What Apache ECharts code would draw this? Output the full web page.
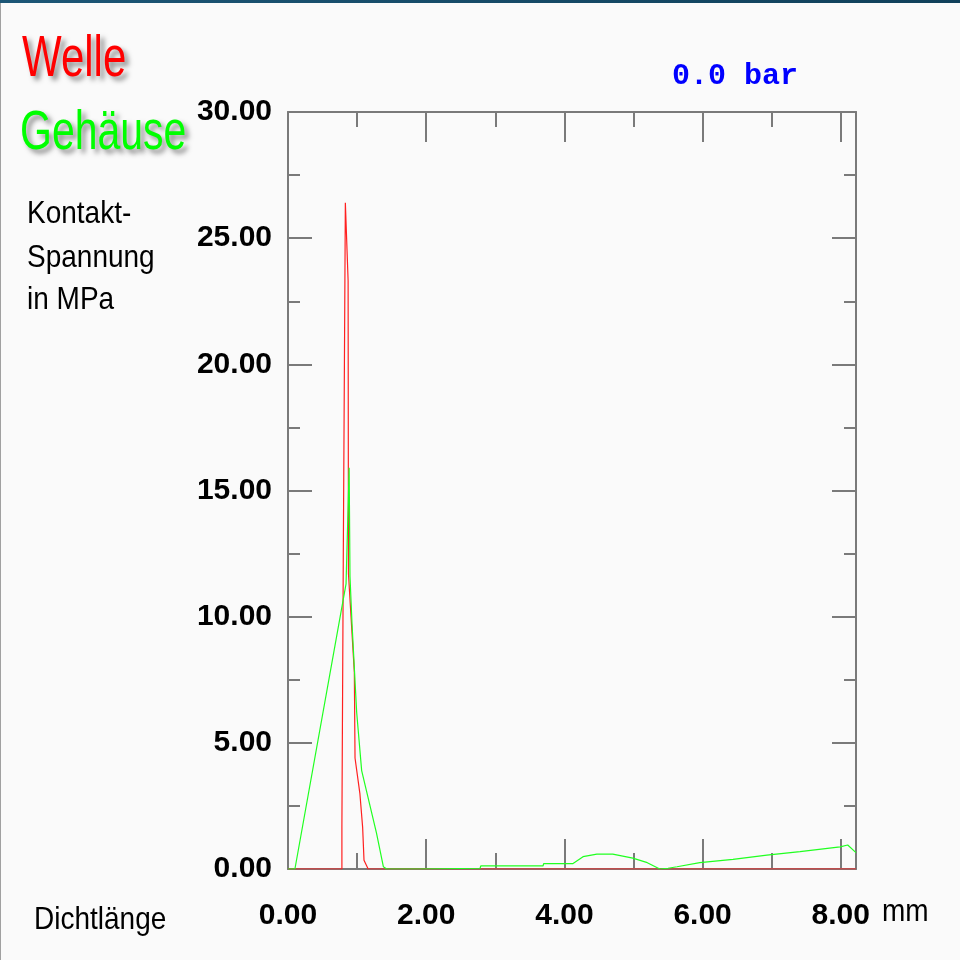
<!DOCTYPE html>
<html>
<head>
<meta charset="utf-8">
<script src="https://cdn.jsdelivr.net/npm/echarts@6/dist/echarts.min.js"></script>
<style>
html,body{margin:0;padding:0;background:#fafafa;}
#c{width:960px;height:960px;}
</style>
</head>
<body>
<div id="c"></div>
<script>
// Data
const welleX = [0, 0.10, 0.78, 0.78, 0.80, 0.83, 0.87, 0.875, 0.96, 0.97, 1.04, 1.08, 1.10, 1.16, 8.22];
const welleY = [0, 0, 0, 1.66, 12.3, 26.4, 23.3, 11.7, 7.8, 4.4, 3.0, 1.66, 0.35, 0, 0];
const gehX = [0, 0.10, 0.84, 0.885, 0.897, 0.926, 0.994, 1.066, 1.28, 1.38, 1.43, 1.91, 1.92, 2.78, 2.79, 3.69, 3.70, 4.12, 4.27, 4.47, 4.70, 4.99, 5.20, 5.38, 5.50, 5.63, 5.96, 6.44, 6.93, 7.41, 7.99, 8.10, 8.22];
const gehY = [0, 0, 11.3, 15.9, 11.6, 9.75, 6.2, 3.9, 1.43, 0.09, 0, 0, 0.03, 0.03, 0.12, 0.12, 0.21, 0.21, 0.49, 0.59, 0.59, 0.43, 0.25, 0, 0.03, 0.09, 0.25, 0.38, 0.55, 0.69, 0.88, 0.95, 0.65];
const xMajorTicks = [0, 2, 4, 6, 8];
const xMinorTicks = [1, 3, 5, 7];
const yMin = 0, yMax = 30, yStep = 5;
const xMin = 0, xMax = 8.22;
const seriesNames = ['Welle', 'Gehäuse'];
const pressureLabel = '0.0 bar';

const axisGray = '#7a7a7a';
const labelFont = '"Liberation Sans", Arial, sans-serif';

function pairs(xs, ys) { return xs.map((x, i) => [x, ys[i]]); }

function xAxisDef(pos, ticks, len, withLine, withLabel) {
  return {
    type: 'value', position: pos, min: xMin, max: xMax,
    axisLine: { show: withLine, onZero: false, lineStyle: { color: axisGray, width: 2 } },
    axisTick: { show: true, inside: true, length: len, customValues: ticks, lineStyle: { color: axisGray, width: 2 } },
    axisLabel: withLabel ? {
      show: true, customValues: ticks, margin: 32,
      formatter: v => Number(v).toFixed(2),
      color: '#000', fontSize: 30, fontWeight: 'bold', fontFamily: labelFont
    } : { show: false },
    splitLine: { show: false }
  };
}
function yAxisDef(pos, withLabel) {
  return {
    type: 'value', position: pos, min: yMin, max: yMax, interval: yStep,
    axisLine: { show: true, onZero: false, lineStyle: { color: axisGray, width: 2 } },
    axisTick: { show: true, inside: true, length: 24, lineStyle: { color: axisGray, width: 2 } },
    minorTick: { show: true, splitNumber: 2, length: 12, lineStyle: { color: axisGray, width: 2 } },
    axisLabel: withLabel ? {
      show: true, margin: 16,
      formatter: v => Number(v).toFixed(2),
      color: '#000', fontSize: 30, fontWeight: 'bold', fontFamily: labelFont
    } : { show: false },
    splitLine: { show: false }, minorSplitLine: { show: false }
  };
}

const chart = echarts.init(document.getElementById('c'), null, { renderer: 'canvas' });
chart.setOption({
  backgroundColor: '#fafafa',
  animation: false,
  grid: { left: 288, right: 104, top: 112, bottom: 91, containLabel: false },
  xAxis: [
    xAxisDef('bottom', xMajorTicks, 30, true, true),
    xAxisDef('bottom', xMinorTicks, 16, false, false),
    xAxisDef('top', xMajorTicks, 30, true, false),
    xAxisDef('top', xMinorTicks, 15, false, false)
  ],
  yAxis: [yAxisDef('left', true), yAxisDef('right', false)],
  series: [
    { name: seriesNames[0], type: 'line', data: pairs(welleX, welleY), showSymbol: false, symbol: 'none',
      lineStyle: { color: '#ff2020', width: 1.2 }, xAxisIndex: 0, yAxisIndex: 0, z: 2 },
    { name: seriesNames[1], type: 'line', data: pairs(gehX, gehY), showSymbol: false, symbol: 'none',
      lineStyle: { color: '#20ff20', width: 1.2 }, xAxisIndex: 0, yAxisIndex: 0, z: 3 }
  ],
  graphic: [
    { type: 'rect', left: 0, top: 0, shape: { width: 960, height: 3 }, z: -1,
      style: { fill: new echarts.graphic.LinearGradient(0, 0, 1, 0, [{ offset: 0, color: '#1c5676' }, { offset: 1, color: '#10405a' }]) } },
    { type: 'rect', left: 0, top: 3, shape: { width: 1, height: 957 }, style: { fill: '#a0a0a0' } },
    { type: 'text', x: 22, y: 60, scaleY: 1.35,
      style: { text: seriesNames[0], fill: '#ff0000', fontSize: 42, fontFamily: labelFont, verticalAlign: 'middle',
        textShadowColor: 'rgba(0,0,0,0.45)', textShadowBlur: 5, textShadowOffsetX: 4, textShadowOffsetY: 4 } },
    { type: 'text', x: 20, y: 134, scaleY: 1.35,
      style: { text: seriesNames[1], fill: '#00ff00', fontSize: 41, fontFamily: labelFont, verticalAlign: 'middle',
        textShadowColor: 'rgba(0,0,0,0.45)', textShadowBlur: 5, textShadowOffsetX: 4, textShadowOffsetY: 4 } },
    { type: 'text', x: 27, y: 214, scaleY: 1.15,
      style: { text: 'Kontakt-', fill: '#000', fontSize: 28, fontFamily: labelFont, verticalAlign: 'middle' } },
    { type: 'text', x: 27, y: 258, scaleY: 1.15,
      style: { text: 'Spannung', fill: '#000', fontSize: 28, fontFamily: labelFont, verticalAlign: 'middle' } },
    { type: 'text', x: 27, y: 300, scaleY: 1.15,
      style: { text: 'in MPa', fill: '#000', fontSize: 28, fontFamily: labelFont, verticalAlign: 'middle' } },
    { type: 'text', x: 672, y: 76,
      style: { text: pressureLabel, fill: '#0000ff', fontSize: 30, fontWeight: 'bold', fontFamily: '"Liberation Mono", "Courier New", monospace', verticalAlign: 'middle' } },
    { type: 'text', x: 34, y: 920, scaleY: 1.15,
      style: { text: 'Dichtlänge', fill: '#000', fontSize: 28, fontFamily: labelFont, verticalAlign: 'middle' } },
    { type: 'text', x: 882, y: 912, scaleY: 1.15,
      style: { text: 'mm', fill: '#000', fontSize: 28, fontFamily: labelFont, verticalAlign: 'middle' } }
  ]
});
</script>
</body>
</html>
